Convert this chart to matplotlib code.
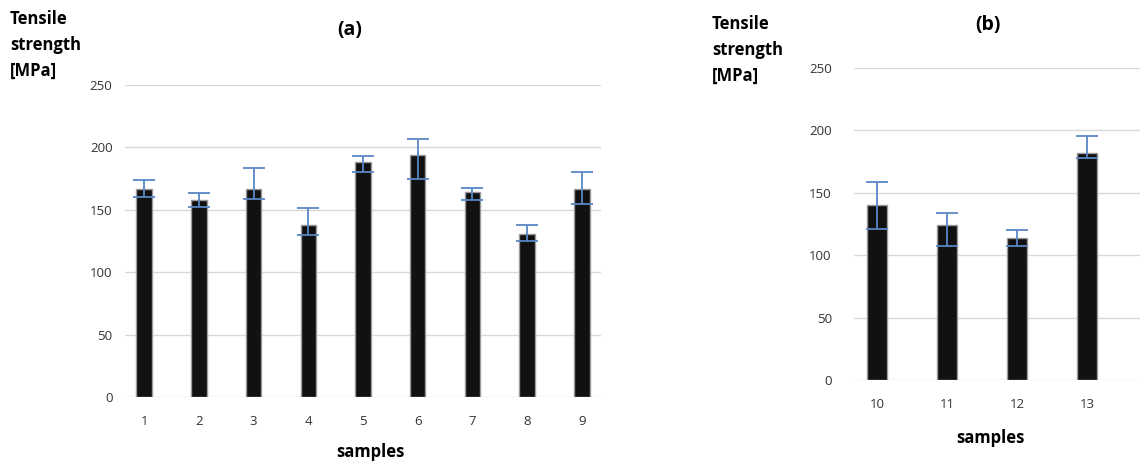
import matplotlib
matplotlib.use("Agg")
import matplotlib.pyplot as plt
import numpy as np

plt.rcParams['font.family'] = ['Open Sans', 'DejaVu Sans']

# ---- data ----
samples_a = ["1", "2", "3", "4", "5", "6", "7", "8", "9"]
strength_a = [167, 158, 167, 138, 188, 194, 164, 131, 167]
err_up_a = [7, 5.5, 16.5, 13.5, 5.5, 12.5, 3.5, 6.5, 13]
err_down_a = [6.5, 5.5, 8, 8, 7.5, 19, 6.5, 6, 12]

samples_b = ["10", "11", "12", "13"]
strength_b = [140, 124.5, 114, 182]
err_up_b = [19, 9.5, 6.5, 13.5]
err_down_b = [19, 17, 6.5, 4.5]

yticks = [0, 50, 100, 150, 200, 250]

W, H = 1140, 465
fig = plt.figure(figsize=(W / 100, H / 100), dpi=100)

def px_axes(left, right, y0, y250):
    return fig.add_axes([left / W, 1 - y0 / H, (right - left) / W, (y0 - y250) / H])

bar_color = '#111111'
edge_color = '#9a9a9a'
err_color = '#5b87c5'
grid_color = '#d9d9d9'
tick_color = '#333333'

def style(ax, xpad, ypad):
    ax.set_ylim(0, 250)
    ax.set_yticks(yticks)
    ax.set_yticklabels([str(v) for v in yticks], fontsize=9.5, color=tick_color)
    ax.yaxis.grid(True, color=grid_color, linewidth=1.0)
    ax.set_axisbelow(True)
    for s in ax.spines.values():
        s.set_visible(False)
    ax.tick_params(axis='both', length=0)
    ax.tick_params(axis='x', pad=xpad, labelsize=9.5, labelcolor=tick_color)
    ax.tick_params(axis='y', pad=ypad)

# panel (a)
ax1 = px_axes(125, 601, 397, 85)
x1 = np.arange(1, len(samples_a) + 1)
ax1.bar(x1, strength_a, width=0.28, color=bar_color, edgecolor=edge_color, linewidth=1.0, zorder=2)
ax1.errorbar(x1, strength_a, yerr=[err_down_a, err_up_a], fmt='none', ecolor=err_color,
             elinewidth=1.3, capsize=8, capthick=1.3, zorder=3, clip_on=False)
ax1.set_xlim(0.65, 9.35)
ax1.set_xticks(x1)
ax1.set_xticklabels(samples_a)
style(ax1, xpad=13, ypad=9)

# panel (b)
ax2 = px_axes(854, 1140, 380, 68)
x2 = np.arange(10, 10 + len(samples_b))
ax2.bar(x2, strength_b, width=0.28, color=bar_color, edgecolor=edge_color, linewidth=1.0, zorder=2)
ax2.errorbar(x2, strength_b, yerr=[err_down_b, err_up_b], fmt='none', ecolor=err_color,
             elinewidth=1.3, capsize=8, capthick=1.3, zorder=3, clip_on=False)
ax2.set_xlim(9.67, 13.76)
ax2.set_xticks(x2)
ax2.set_xticklabels(samples_b)
style(ax2, xpad=13, ypad=16)

def ftext(x, y, s, **kw):
    fig.text(x / W, 1 - y / H, s, **kw)

ylab = "Tensile\nstrength\n[MPa]"
ftext(10, 45, ylab, fontsize=12, fontweight='bold', va='center', ha='left', linespacing=1.55)
ftext(712, 50, ylab, fontsize=12, fontweight='bold', va='center', ha='left', linespacing=1.55)
ftext(350, 30, "(a)", fontsize=14, fontweight='bold', ha='center', va='center')
ftext(988, 25, "(b)", fontsize=14, fontweight='bold', ha='center', va='center')
ftext(370, 452, "samples", fontsize=12, fontweight='bold', ha='center', va='center')
ftext(990, 438, "samples", fontsize=12, fontweight='bold', ha='center', va='center')

fig.savefig("out.png", dpi=100, facecolor='white')
